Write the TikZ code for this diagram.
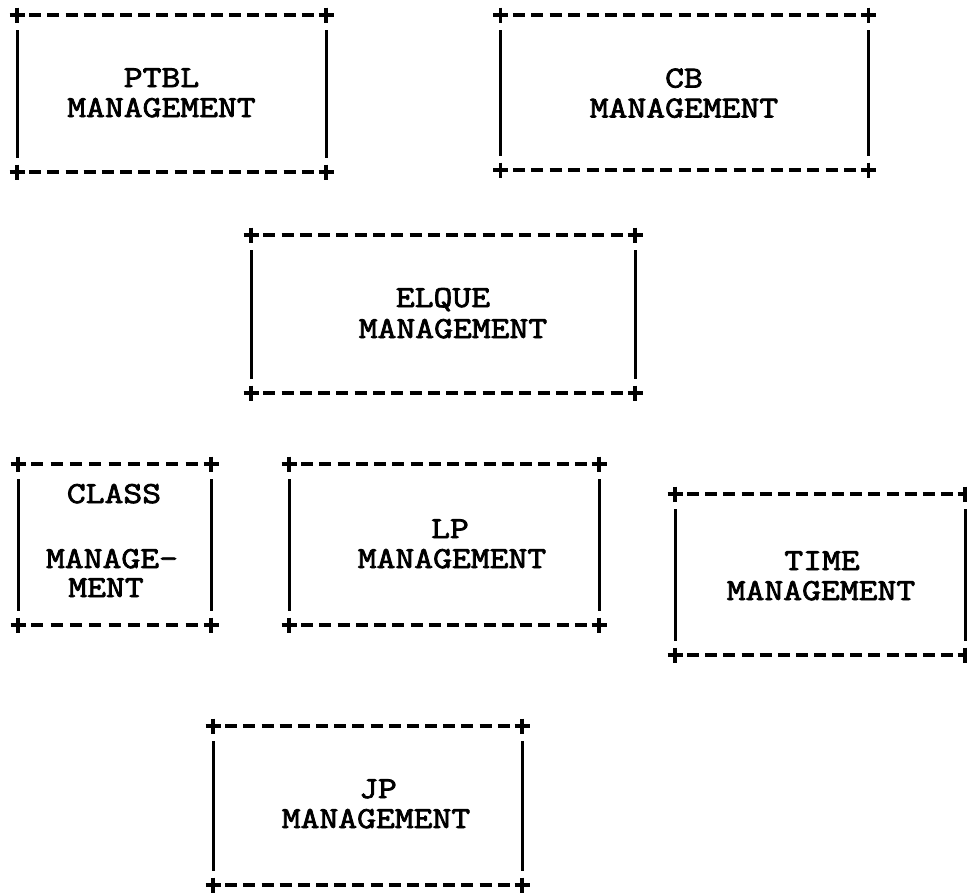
\documentclass[tikz,border=0pt]{standalone}
\usepackage{fontspec}
% typewriter face for the box labels, widened to a 10-pitch cell
\newfontfamily\typer{Latin Modern Mono}[FakeStretch=1.2, FakeBold=2.6]

% \asciibox{name}{x1}{y1}{x2}{y2}{cells}: a box drawn as +----+ / | |
\newcommand\asciibox[6]{%
  \node[boxarea, minimum width={#4-#2}, minimum height={#5-#3}] (#1)
    at ({(#2+#4)/2},{(#3+#5)/2}) {};
  \foreach \a in {north west,north east,south west,south east}
    \draw[crossarm] (#1.\a) +(-7.5,0) -- +(7.5,0) (#1.\a) +(0,-7.5) -- +(0,7.5);
  \pgfmathtruncatemacro\lastk{#6-1}%
  \foreach \k in {1,...,\lastk}{%
    \pgfmathsetmacro\xm{#2+\k*(#4-#2)/#6}%
    \draw[dashseg] (\xm-6,#3) -- (\xm+6,#3) (\xm-6,#5) -- (\xm+6,#5);
  }
  \draw[sideline] (#2,#3+15) -- (#2,#5-14) (#4,#3+15) -- (#4,#5-14);
}

\begin{document}
\begin{tikzpicture}[x=1pt,y=-1pt,
  boxarea/.style={draw=none, inner sep=0pt, outer sep=0pt, rectangle},
  dashseg/.style={line width=3.4pt},
  crossarm/.style={line width=3.4pt},
  sideline/.style={line width=3pt},
  boxtext/.style={font=\typer\fontsize{30.5}{31}\selectfont, inner sep=0pt, anchor=base}]
\fill[white] (0,0) rectangle (967,892);
\useasboundingbox (0,0) rectangle (967,892);

% boxes
\asciibox{ptbl}{17}{15}{326}{172}{17}
\asciibox{cb}{500.5}{15}{868.5}{170}{20}
\asciibox{elque}{251}{235}{635}{393}{21}
\asciibox{class}{18}{464}{211}{625}{10}
\asciibox{lp}{289}{464}{599}{625}{17}
\asciibox{time}{675}{494}{965}{655}{16}
\asciibox{jp}{213}{726}{522}{885}{17}

% labels
\node[boxtext] (ptbl-a) at (161.5,87) {PTBL};
\node[boxtext] (ptbl-b) at (161.5,117) {MANAGEMENT};
\node[boxtext] (cb-a) at (684,87.5) {CB};
\node[boxtext] (cb-b) at (684,117.5) {MANAGEMENT};
\node[boxtext] (elque-a) at (443,307) {ELQUE};
\node[boxtext] (elque-b) at (453,338) {MANAGEMENT};
\node[boxtext] (class-a) at (114,503) {CLASS};
\node[boxtext] (class-b) at (112,568) {MANAGE-};
\node[boxtext] (class-c) at (106,597) {MENT};
\node[boxtext] (lp-a) at (450,538) {LP};
\node[boxtext] (lp-b) at (452,568) {MANAGEMENT};
\node[boxtext] (time-a) at (822,570) {TIME};
\node[boxtext] (time-b) at (821,600) {MANAGEMENT};
\node[boxtext] (jp-a) at (378,798) {JP};
\node[boxtext] (jp-b) at (376,828) {MANAGEMENT};
\end{tikzpicture}
\end{document}
